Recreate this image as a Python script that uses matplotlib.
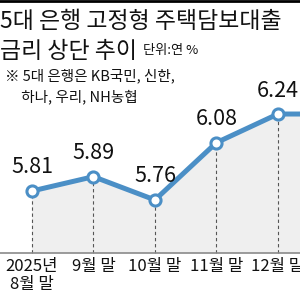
import matplotlib
matplotlib.use("Agg")
import matplotlib.pyplot as plt

# 데이터
months = ['2025년\n8월 말', '9월 말', '10월 말', '11월 말', '12월 말', '1월 말']
rates = [5.81, 5.89, 5.76, 6.08, 6.24, 6.24]

LINE = '#4b8fc6'
FILL = '#efefef'
HANGUL = ['Liberation Sans Narrow', 'Noto Sans CJK KR', 'DejaVu Sans']

fig = plt.figure(figsize=(3, 3), dpi=100)
ax = fig.add_axes([0, 0, 1, 1])
ax.set_xlim(-0.52, 4.36)
ax.set_ylim(5.201, 6.877)
ax.axis('off')

base = 5.464
x = list(range(len(rates)))

# 회색 영역 + 점선
ax.fill_between(x, rates, base, color=FILL, zorder=1, lw=0)
for i, v in zip(x, rates):
    ax.plot([i, i], [base, v], ls=(0, (3, 2.5)), color='#555555', lw=0.8, zorder=2)
ax.axhline(base, color='#8a8a8a', lw=1.2, zorder=3)

# 선
ax.plot(x, rates, color=LINE, lw=3.6, zorder=4, solid_joinstyle='round')
ax.plot(x, rates, 'o', ms=8, mfc='white', mec=LINE, mew=2.2, zorder=5)

# 값 라벨
for i, v in zip(x, rates):
    ax.annotate('{:.2f}'.format(v), xy=(i, v), xytext=(0, 9),
                textcoords='offset points', ha='center', va='bottom',
                fontsize=15.5, family=HANGUL, color='#111111', zorder=6)

# x축 라벨
for i, m in zip(x, months):
    ax.annotate(m, xy=(i, base), xytext=(0, -3.5), textcoords='offset points',
                ha='center', va='top', fontsize=12, family=HANGUL,
                color='#111111', linespacing=1.1)

# 제목
fig.text(0.0, 0.968, '5대 은행 고정형 주택담보대출', ha='left', va='top',
         fontsize=16.5, family=HANGUL, color='#111111')
fig.text(0.0, 0.868, '금리 상단 추이', ha='left', va='top',
         fontsize=16.5, family=HANGUL, color='#111111')
fig.text(0.477, 0.853, '단위:연 %', ha='left', va='top',
         fontsize=9.5, family=HANGUL, color='#111111')

# 주석
fig.text(0.017, 0.772, '※ 5대 은행은 KB국민, 신한,\n     하나, 우리, NH농협', ha='left', va='top',
         fontsize=10.5, family=HANGUL, color='#111111', linespacing=1.5)

# 상단 검은 선
fig.add_artist(plt.Line2D([0, 1], [0.997, 0.997], color='black', lw=2,
                          transform=fig.transFigure))

fig.savefig('out.png', dpi=100)
